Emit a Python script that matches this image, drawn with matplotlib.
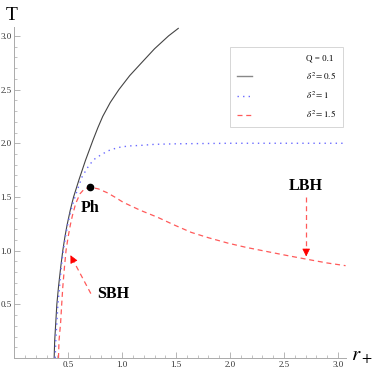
import matplotlib
matplotlib.use('Agg')
import matplotlib.pyplot as plt
from matplotlib.lines import Line2D
from matplotlib.ticker import MultipleLocator

# T(r+) curves, Q = 0.1
r_d05 = [0.37, 0.375, 0.385, 0.395, 0.41, 0.43, 0.45, 0.47, 0.49, 0.52, 0.55, 0.60, 0.66, 0.73,
         0.775, 0.82, 0.89, 0.97, 1.07, 1.18, 1.30, 1.43, 1.52]
T_d05 = [0.0, 0.16, 0.33, 0.50, 0.66, 0.84, 1.0, 1.13, 1.24, 1.38, 1.50, 1.66, 1.84, 2.03,
         2.145, 2.25, 2.38, 2.5, 2.63, 2.75, 2.88, 3.0, 3.07]

r_d1 = [0.38, 0.385, 0.395, 0.405, 0.42, 0.435, 0.455, 0.475, 0.495, 0.52, 0.55, 0.59, 0.63,
        0.69, 0.74, 0.80, 0.87, 0.96, 1.06, 1.17, 1.30, 1.5, 2.0, 2.5, 3.07]
T_d1 = [0.0, 0.16, 0.33, 0.50, 0.66, 0.84, 1.0, 1.13, 1.24, 1.35, 1.46, 1.58, 1.69,
        1.79, 1.85, 1.89, 1.93, 1.96, 1.975, 1.98, 1.99, 1.995, 2.0, 2.0, 2.0]

r_d15 = [0.41, 0.415, 0.43, 0.44, 0.45, 0.465, 0.48, 0.50, 0.52, 0.54, 0.57, 0.61, 0.65,
         0.706, 0.78, 0.86, 0.93, 1.01, 1.17, 1.33, 1.48, 1.64, 1.80, 1.98, 2.15, 2.35, 2.50,
         2.71, 2.90, 3.07]
T_d15 = [0.0, 0.16, 0.33, 0.50, 0.66, 0.84, 1.0, 1.13, 1.24, 1.33, 1.44, 1.53, 1.575,
         1.59, 1.575, 1.54, 1.50, 1.45, 1.375, 1.31, 1.24, 1.17, 1.12, 1.07, 1.03, 0.99, 0.96,
         0.92, 0.885, 0.86]

ph = (0.706, 1.59)

plt.rcParams['font.family'] = ['Liberation Serif', 'DejaVu Serif']
plt.rcParams['mathtext.fontset'] = 'stix'

fig = plt.figure(figsize=(3.74, 3.72), dpi=100)
ax = fig.add_axes([0.038, 0.0376, 0.886, 0.889])

ax.plot(r_d05, T_d05, color='#444444', lw=0.8)
ax.plot(r_d1, T_d1, color='#6b6bff', lw=1.0, linestyle=(0, (1, 3)))
ax.plot(r_d15, T_d15, color='#ff5a5a', lw=0.9, linestyle=(0, (4, 3)))
ax.plot(*ph, 'o', color='black', markersize=4.5)

# arrows
ax.plot([0.71, 0.53], [0.60, 0.94], color='#ff5a5a', lw=0.9, linestyle=(0, (4, 3)))
ax.annotate('', xy=(0.51, 0.98), xytext=(0.56, 0.88),
            arrowprops=dict(arrowstyle='-|>', color='red', lw=0.5, mutation_scale=12))
ax.plot([2.705, 2.705], [1.50, 0.98], color='#ff5a5a', lw=0.9, linestyle=(0, (4, 3)))
ax.annotate('', xy=(2.705, 0.92), xytext=(2.705, 1.04),
            arrowprops=dict(arrowstyle='-|>', color='red', lw=0.5, mutation_scale=12))

ax.text(0.70, 1.40, 'Ph', fontsize=11.5, fontweight='bold', ha='center', va='center')
ax.text(0.92, 0.60, 'SBH', fontsize=11.5, fontweight='bold', ha='center', va='center')
ax.text(2.70, 1.60, 'LBH', fontsize=11.5, fontweight='bold', ha='center', va='center')

ax.set_xlim(0, 3.07)
ax.set_ylim(0, 3.08)
for s in ['top', 'right']:
    ax.spines[s].set_visible(False)
for s in ['left', 'bottom']:
    ax.spines[s].set_color('#aaaaaa')
    ax.spines[s].set_linewidth(0.7)

ax.xaxis.set_major_locator(MultipleLocator(0.5))
ax.xaxis.set_minor_locator(MultipleLocator(0.1))
ax.yaxis.set_major_locator(MultipleLocator(0.5))
ax.yaxis.set_minor_locator(MultipleLocator(0.1))
ax.tick_params(which='both', direction='in', color='#aaaaaa', labelsize=6.5,
               labelcolor='#333333', pad=2)
ax.tick_params(which='major', length=4, width=0.6)
ax.tick_params(which='minor', length=2, width=0.5)
ax.set_xticks([0.5, 1.0, 1.5, 2.0, 2.5, 3.0])
ax.set_yticks([0.5, 1.0, 1.5, 2.0, 2.5, 3.0])

fig.text(12 / 374, 1 - 15 / 372, 'T', fontsize=14, ha='center', va='center')
fig.text(362 / 374, 1 - 356 / 372, r'$\boldsymbol{r_+}$', fontsize=15, ha='center', va='center')

handles = [Line2D([], [], color='none'),
           Line2D([], [], color='#888888', lw=1.0),
           Line2D([], [], color='#6b6bff', lw=1.0, linestyle=(0, (1, 3))),
           Line2D([], [], color='#ff5a5a', lw=0.9, linestyle=(0, (4, 3)))]
labels = ['Q = 0.1', r'$\delta^2 = 0.5$', r'$\delta^2 = 1$', r'$\delta^2 = 1.5$']
leg = fig.legend(handles, labels, loc='upper left', bbox_to_anchor=(230 / 374, 1 - 47 / 372),
                 fontsize=6.5, frameon=True, fancybox=False, handlelength=1.6,
                 handletextpad=6.0, borderpad=0.8, labelspacing=0.85, borderaxespad=0)
leg.get_frame().set_edgecolor('#cccccc')
leg.get_frame().set_linewidth(0.7)

fig.savefig('out.png', dpi=100)
